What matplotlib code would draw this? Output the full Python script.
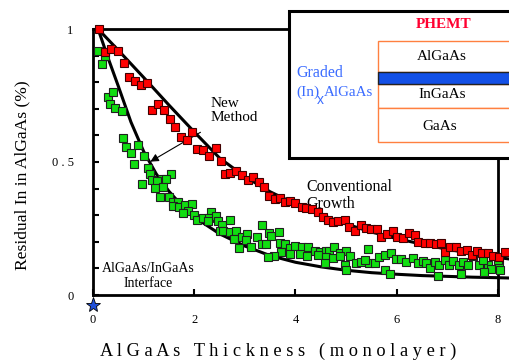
import matplotlib
matplotlib.use("Agg")
import matplotlib.pyplot as plt
from matplotlib.patches import Rectangle

plt.rcParams.update({
    "font.family": ["Liberation Serif", "DejaVu Serif"],
    "axes.linewidth": 2.0,
})

# ---- data ----
red_x = [0.12, 0.24, 0.36, 0.50, 0.61, 0.71, 0.83, 0.95, 1.07, 1.17, 1.29, 1.41, 1.52,
         1.62, 1.74, 1.85, 1.96, 2.05, 2.18, 2.29, 2.43, 2.52, 2.60, 2.70, 2.82, 2.95,
         3.06, 3.16, 3.28, 3.37, 3.48, 3.59, 3.69, 3.79, 3.90, 4.00, 4.12, 4.21, 4.33,
         4.44, 4.54, 4.64, 4.74, 4.84, 4.97, 5.06, 5.17, 5.30, 5.40, 5.50, 5.61, 5.68,
         5.81, 5.93, 6.01, 6.13, 6.24, 6.37, 6.42, 6.55, 6.65, 6.77, 6.88, 6.96, 7.05,
         7.18, 7.27, 7.38, 7.49, 7.58, 7.68, 7.80, 7.90, 8.01, 8.13]
red_y = [1.000, 0.915, 0.924, 0.918, 0.871, 0.818, 0.805, 0.788, 0.796, 0.695, 0.717, 0.695, 0.663,
         0.633, 0.593, 0.583, 0.611, 0.550, 0.545, 0.523, 0.554, 0.505, 0.455, 0.460, 0.467, 0.451,
         0.432, 0.442, 0.426, 0.405, 0.372, 0.360, 0.363, 0.351, 0.354, 0.345, 0.330, 0.326, 0.322,
         0.313, 0.294, 0.282, 0.276, 0.279, 0.282, 0.254, 0.242, 0.263, 0.251, 0.247, 0.247, 0.217,
         0.229, 0.242, 0.217, 0.213, 0.234, 0.226, 0.200, 0.194, 0.194, 0.192, 0.194, 0.163, 0.182,
         0.182, 0.167, 0.169, 0.150, 0.167, 0.159, 0.157, 0.147, 0.142, 0.163]

green_x = [0.10, 0.18, 0.24, 0.29, 0.34, 0.40, 0.43, 0.57, 0.60, 0.66, 0.76, 0.89, 1.01,
           0.81, 1.09, 1.12, 1.55, 1.37, 1.16, 1.26, 1.45, 0.96, 1.22, 1.39, 1.32, 1.50,
           1.58, 1.68, 1.58, 1.70, 1.81, 1.95, 1.88, 1.78, 1.99, 2.06, 2.18, 2.34, 2.29,
           2.43, 2.47, 2.27, 2.54, 2.70, 2.50, 2.57, 2.70, 2.83, 2.78, 2.89,
           2.95, 3.04, 3.02, 3.24, 3.33, 3.48, 3.52, 3.67, 3.13, 3.33, 3.41, 3.69, 3.79,
           3.89, 4.00, 4.12, 4.25, 4.38, 4.49, 4.60, 4.67, 4.77, 4.87, 5.00, 3.72, 3.57,
           3.89, 4.08, 4.23, 4.44, 4.60, 4.74, 4.87, 5.07, 5.20, 4.58, 4.97, 5.00, 3.46,
           5.43, 5.30, 5.46, 5.58, 5.65, 5.76, 5.89, 5.99, 6.09, 6.19, 6.32, 6.42, 6.51,
           6.58, 6.65, 6.75, 6.84, 6.96, 7.03, 7.11, 7.23, 7.30, 7.40, 7.50, 7.63, 7.80,
           7.86, 8.01, 8.03, 5.76, 5.86, 6.81, 7.27, 7.73, 5.38, 7.70, 8.00]
green_y = [0.917, 0.868, 0.898, 0.743, 0.717, 0.764, 0.702, 0.693, 0.590, 0.555, 0.535, 0.564, 0.523,
           0.492, 0.476, 0.455, 0.454, 0.435, 0.432, 0.430, 0.435, 0.416, 0.401, 0.407, 0.370, 0.367,
           0.351, 0.351, 0.335, 0.332, 0.338, 0.342, 0.317, 0.309, 0.300, 0.282, 0.288, 0.313, 0.288,
           0.297, 0.279, 0.279, 0.263, 0.282, 0.242, 0.242, 0.238, 0.242, 0.209, 0.175,
           0.217, 0.229, 0.207, 0.219, 0.263, 0.234, 0.222, 0.238, 0.182, 0.192, 0.192, 0.197, 0.192,
           0.178, 0.184, 0.182, 0.182, 0.167, 0.163, 0.167, 0.167, 0.179, 0.157, 0.167, 0.163, 0.147,
           0.154, 0.154, 0.147, 0.150, 0.142, 0.138, 0.145, 0.145, 0.121, 0.121, 0.113, 0.094, 0.142,
           0.172, 0.125, 0.119, 0.119, 0.142, 0.150, 0.157, 0.134, 0.134, 0.125, 0.138, 0.119, 0.129,
           0.119, 0.100, 0.125, 0.113, 0.132, 0.113, 0.129, 0.113, 0.125, 0.113, 0.145, 0.113, 0.113,
           0.096, 0.113, 0.094, 0.094, 0.079, 0.071, 0.079, 0.088, 0.132, 0.132, 0.132]

# fitted curves
conv_fit_x = [0.1, 0.5, 1.0, 1.5, 2.0, 2.5, 3.0, 3.5, 4.0, 4.5, 5.0, 5.5, 6.0, 6.5, 7.0, 7.5, 8.0, 8.2]
conv_fit_y = [1.0, 0.92, 0.818, 0.714, 0.613, 0.515, 0.445, 0.388, 0.342, 0.302, 0.267, 0.237,
              0.212, 0.191, 0.172, 0.155, 0.141, 0.136]
new_fit_x = [0.1, 0.3, 0.5, 0.75, 1.0, 1.25, 1.5, 1.75, 2.0, 2.5, 3.0, 3.5, 4.0, 4.5, 5.0,
             5.5, 6.0, 6.5, 7.0, 7.5, 8.0, 8.2]
new_fit_y = [1.0, 0.89, 0.785, 0.65, 0.54, 0.455, 0.39, 0.337, 0.293, 0.23, 0.184, 0.148, 0.123,
             0.106, 0.093, 0.084, 0.078, 0.073, 0.07, 0.067, 0.065, 0.064]

x_ticks = [0, 2, 4, 6, 8]
y_ticks = [0, 0.1, 0.2, 0.3, 0.4, 0.5, 0.6, 0.7, 0.8, 0.9, 1.0]
y_ticklabels = ["0", "", "", "", "", "0 . 5", "", "", "", "", "1"]

RED = "#ff0000"; GREEN = "#11dd11"; BLUE_TXT = "#3b6cff"; ORANGE = "#ff8040"

fig = plt.figure(figsize=(5.1, 3.63), dpi=100)
ax = fig.add_axes([93/510, 68/363, 405/510, 266/363])

ax.plot(conv_fit_x, conv_fit_y, color="k", lw=2.2, clip_on=False, zorder=3)
ax.plot(new_fit_x, new_fit_y, color="k", lw=2.2, clip_on=False, zorder=3)
ax.plot(green_x, green_y, ls="none", marker="s", ms=5.8, mfc=GREEN, mec="#202020",
        mew=0.8, clip_on=False, zorder=4)
ax.plot(red_x, red_y, ls="none", marker="s", ms=5.8, mfc=RED, mec="#400000",
        mew=0.8, clip_on=False, zorder=4)

# interface marker
ax.plot([0], [-0.038], marker="*", ms=11, mfc="#1f4fd8", mec="k", mew=0.6,
        clip_on=False, zorder=5)

ax.annotate("", xy=(1.085, 0.496), xytext=(2.17, 0.617),
            arrowprops=dict(arrowstyle="-|>", color="k", lw=0.8, mutation_scale=12))
ax.text(2.33, 0.745, "New\nMethod", fontsize=11, ha="left", va="top", linespacing=1.1)
ax.text(4.22, 0.435, "Conventional\nGrowth", fontsize=11.5, ha="left", va="top",
        linespacing=1.1)
ax.text(1.09, 0.125, "AlGaAs/InGaAs\nInterface", fontsize=10, ha="center", va="top",
        linespacing=1.2)

ax.set_xlim(0, 8)
ax.set_ylim(0, 1)
ax.set_xticks(x_ticks)
ax.set_xticklabels([str(v) for v in x_ticks])
ax.set_yticks(y_ticks)
ax.set_yticklabels(y_ticklabels)
ax.tick_params(direction="in", length=4, width=1.5, labelsize=9, pad=14)
ax.set_xlabel("A l G a A s   T h i c k n e s s   ( m o n o l a y e r )",
              fontsize=13.2)
ax.xaxis.set_label_coords(0.457, -0.178)
ax.set_ylabel("Residual In in AlGaAs (%)", fontsize=12.6)
ax.yaxis.set_label_coords(-0.155, 0.451)

# ---- PHEMT inset (figure coordinates) ----
def fx(px):
    return px / 510

def fy(py):
    return 1 - py / 363

tf = fig.transFigure
fig.add_artist(Rectangle((fx(289), fy(158)), 0.5, fy(11) - fy(158), transform=tf,
                         fc="white", ec="black", lw=2.2, zorder=10))
for top, bot in [(41, 72.3), (84, 108), (108, 142)]:
    fig.add_artist(Rectangle((fx(378), fy(bot)), 0.5, fy(top) - fy(bot), transform=tf,
                             fc="white", ec=ORANGE, lw=1.0, zorder=11))
fig.add_artist(Rectangle((fx(378), fy(84)), 0.5, fy(72.3) - fy(84), transform=tf,
                         fc="#1450e6", ec="#222222", lw=1.0, zorder=12))

fig.text(fx(444), fy(24), "PHEMT", color="#ff0030", fontsize=11, fontweight="bold",
         ha="center", va="center", zorder=13)
fig.text(fx(442), fy(57), "AlGaAs", fontsize=11, ha="center", va="center", zorder=13)
fig.text(fx(442), fy(95), "InGaAs", fontsize=11, ha="center", va="center", zorder=13)
fig.text(fx(440), fy(127), "GaAs", fontsize=11, ha="center", va="center", zorder=13)
fig.text(fx(296), fy(73), "Graded", color=BLUE_TXT, fontsize=11.5, ha="left",
         va="center", zorder=13)
fig.text(fx(296), fy(92), "(In)", color=BLUE_TXT, fontsize=11, ha="left",
         va="center", zorder=13)
fig.text(fx(317), fy(100), "x", color=BLUE_TXT, fontsize=10, family="Liberation Sans",
         ha="left", va="center", zorder=13)
fig.text(fx(324), fy(92), "AlGaAs", color=BLUE_TXT, fontsize=10.8, ha="left",
         va="center", zorder=13)

fig.savefig("out.png", dpi=100)
